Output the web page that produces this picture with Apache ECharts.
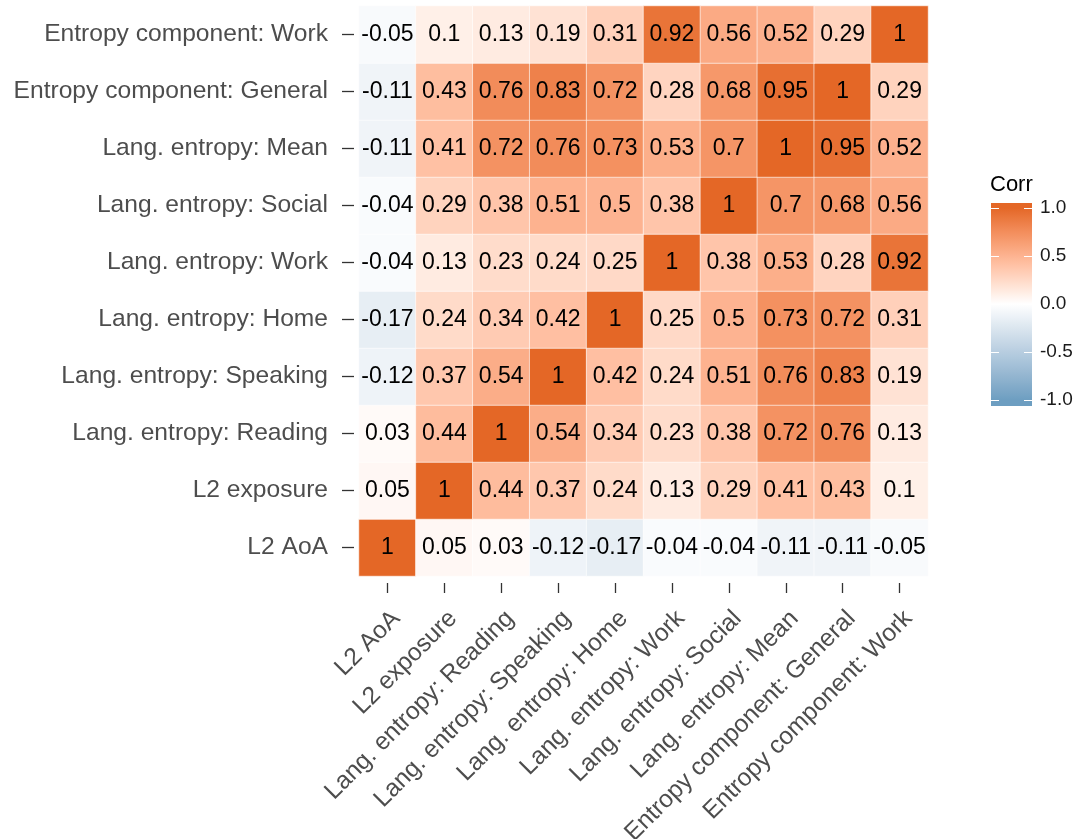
<!DOCTYPE html>
<html>
<head>
<meta charset="utf-8">
<script src="https://cdn.jsdelivr.net/npm/echarts@6/dist/echarts.min.js"></script>
<style>
  html, body { margin: 0; padding: 0; background: #fff; }
  #chart { width: 1076px; height: 839px; }
</style>
</head>
<body>
<div id="chart"></div>
<script>
// variables, in axis order (bottom-to-top on y, left-to-right on x)
var vars = ['L2 AoA', 'L2 exposure', 'Lang. entropy: Reading', 'Lang. entropy: Speaking',
    'Lang. entropy: Home', 'Lang. entropy: Work', 'Lang. entropy: Social',
    'Lang. entropy: Mean', 'Entropy component: General', 'Entropy component: Work'];

// one row per variable, same order as vars
var rowL2AoA      = [1, 0.05, 0.03, -0.12, -0.17, -0.04, -0.04, -0.11, -0.11, -0.05];
var rowL2Exposure = [0.05, 1, 0.44, 0.37, 0.24, 0.13, 0.29, 0.41, 0.43, 0.1];
var rowReading    = [0.03, 0.44, 1, 0.54, 0.34, 0.23, 0.38, 0.72, 0.76, 0.13];
var rowSpeaking   = [-0.12, 0.37, 0.54, 1, 0.42, 0.24, 0.51, 0.76, 0.83, 0.19];
var rowHome       = [-0.17, 0.24, 0.34, 0.42, 1, 0.25, 0.5, 0.73, 0.72, 0.31];
var rowWork       = [-0.04, 0.13, 0.23, 0.24, 0.25, 1, 0.38, 0.53, 0.28, 0.92];
var rowSocial     = [-0.04, 0.29, 0.38, 0.51, 0.5, 0.38, 1, 0.7, 0.68, 0.56];
var rowMean       = [-0.11, 0.41, 0.72, 0.76, 0.73, 0.53, 0.7, 1, 0.95, 0.52];
var rowGeneral    = [-0.11, 0.43, 0.76, 0.83, 0.72, 0.28, 0.68, 0.95, 1, 0.29];
var rowCompWork   = [-0.05, 0.1, 0.13, 0.19, 0.31, 0.92, 0.56, 0.52, 0.29, 1];

var rows = [rowL2AoA, rowL2Exposure, rowReading, rowSpeaking, rowHome,
    rowWork, rowSocial, rowMean, rowGeneral, rowCompWork];

var legendTicks = [1.0, 0.5, 0.0, -0.5, -1.0];

var lowColor = '#6D9EC1', midColor = '#FFFFFF', highColor = '#E46726';

// --- gradient in Lab space, like scale_fill_gradient2 ---
function toLin(c) { c /= 255; return c <= 0.04045 ? c / 12.92 : Math.pow((c + 0.055) / 1.055, 2.4); }
function fromLin(c) { c = c <= 0.0031308 ? 12.92 * c : 1.055 * Math.pow(c, 1 / 2.4) - 0.055; return Math.max(0, Math.min(255, Math.round(c * 255))); }
var WX = 0.95047, WY = 1, WZ = 1.08883;
function fLab(t) { return t > 216 / 24389 ? Math.cbrt(t) : (24389 / 27 * t + 16) / 116; }
function fInv(t) { return t * t * t > 216 / 24389 ? t * t * t : (116 * t - 16) / (24389 / 27); }
function hexToLab(hex) {
    var r = toLin(parseInt(hex.substr(1, 2), 16)), g = toLin(parseInt(hex.substr(3, 2), 16)), b = toLin(parseInt(hex.substr(5, 2), 16));
    var x = (0.4124 * r + 0.3576 * g + 0.1805 * b) / WX;
    var y = (0.2126 * r + 0.7152 * g + 0.0722 * b) / WY;
    var z = (0.0193 * r + 0.1192 * g + 0.9505 * b) / WZ;
    var fx = fLab(x), fy = fLab(y), fz = fLab(z);
    return [116 * fy - 16, 500 * (fx - fy), 200 * (fy - fz)];
}
function labToRgb(lab) {
    var fy = (lab[0] + 16) / 116, fx = fy + lab[1] / 500, fz = fy - lab[2] / 200;
    var x = fInv(fx) * WX, y = fInv(fy) * WY, z = fInv(fz) * WZ;
    var r = 3.2406 * x - 1.5372 * y - 0.4986 * z;
    var g = -0.9689 * x + 1.8758 * y + 0.0415 * z;
    var b = 0.0557 * x - 0.2040 * y + 1.0570 * z;
    return 'rgb(' + fromLin(r) + ',' + fromLin(g) + ',' + fromLin(b) + ')';
}
function labRamp(c1, c2, n) {
    var a = hexToLab(c1), b = hexToLab(c2), out = [];
    for (var i = 0; i <= n; i++) {
        var t = i / n;
        out.push(labToRgb([a[0] + (b[0] - a[0]) * t, a[1] + (b[1] - a[1]) * t, a[2] + (b[2] - a[2]) * t]));
    }
    return out;
}
var steps = 20;
var rampColors = labRamp(lowColor, midColor, steps).concat(labRamp(midColor, highColor, steps).slice(1));

var data = [];
rows.forEach(function (r, yi) {
    r.forEach(function (v, xi) {
        data.push([xi, yi, v]);
    });
});

var myChart = echarts.init(document.getElementById('chart'));

// colour bar legend drawn by hand (ggplot style)
var barX = 991, barY = 203, barW = 41, barH = 203;
var yTop = 208, yBot = 400; // positions of 1.0 and -1.0
function valY(v) { return yTop + (1 - v) / 2 * (yBot - yTop); }
var barStops = [{ offset: 0, color: highColor }];
for (var i = rampColors.length - 1; i >= 0; i--) {
    var v = -1 + 2 * i / (rampColors.length - 1);
    barStops.push({ offset: (valY(v) - barY) / barH, color: rampColors[i] });
}
barStops.push({ offset: 1, color: lowColor });

var legendGraphics = [
    { type: 'text', left: 990, top: 174,
      style: { text: 'Corr', font: '22px "Liberation Sans", Arial, sans-serif', fill: '#000' } },
    { type: 'rect', shape: { x: barX, y: barY, width: barW, height: barH },
      style: { fill: new echarts.graphic.LinearGradient(0, 0, 0, 1, barStops) } }
];
legendTicks.forEach(function (t) {
    var y = Math.round(valY(t)) + 0.5;
    legendGraphics.push({ type: 'line', shape: { x1: barX, y1: y, x2: barX + 8, y2: y },
        style: { stroke: '#fff', lineWidth: 1 } });
    legendGraphics.push({ type: 'line', shape: { x1: barX + barW - 8, y1: y, x2: barX + barW, y2: y },
        style: { stroke: '#fff', lineWidth: 1 } });
    legendGraphics.push({ type: 'text', x: 1040, y: valY(t),
        style: { text: t.toFixed(1), font: '19px "Liberation Sans", Arial, sans-serif',
                 fill: '#1a1a1a', verticalAlign: 'middle' } });
});

var option = {
    backgroundColor: '#fff',
    animation: false,
    grid: { left: 359, right: 148, top: 6, bottom: 263, containLabel: false, outerBoundsMode: 'none' },
    xAxis: {
        type: 'category',
        data: vars,
        offset: 7,
        axisLine: { show: false },
        axisTick: { show: true, length: 10, alignWithLabel: true, lineStyle: { color: '#333', width: 1.3 } },
        axisLabel: {
            rotate: 45, interval: 0, margin: 23, verticalAlign: 'top',
            color: '#4D4D4D', fontSize: 24.6, fontFamily: '"Liberation Sans", Arial, sans-serif'
        },
        splitLine: { show: false }
    },
    yAxis: {
        type: 'category',
        data: vars,
        offset: 5,
        axisLine: { show: false },
        axisTick: { show: true, length: 12, alignWithLabel: true, lineStyle: { color: '#333', width: 1.3 } },
        axisLabel: {
            interval: 0, margin: 26,
            color: '#4D4D4D', fontSize: 24.6, fontFamily: '"Liberation Sans", Arial, sans-serif'
        },
        splitLine: { show: false }
    },
    visualMap: {
        show: false,
        min: -1,
        max: 1,
        dimension: 2,
        inRange: { color: rampColors }
    },
    graphic: legendGraphics,
    series: [{
        type: 'heatmap',
        data: data,
        label: {
            show: true,
            color: '#000',
            fontSize: 23,
            fontFamily: '"Liberation Sans", Arial, sans-serif',
            formatter: function (p) { return String(p.value[2]); }
        },
        itemStyle: { borderColor: '#fff', borderWidth: 0.6 }
    }]
};
myChart.setOption(option);
</script>
</body>
</html>
